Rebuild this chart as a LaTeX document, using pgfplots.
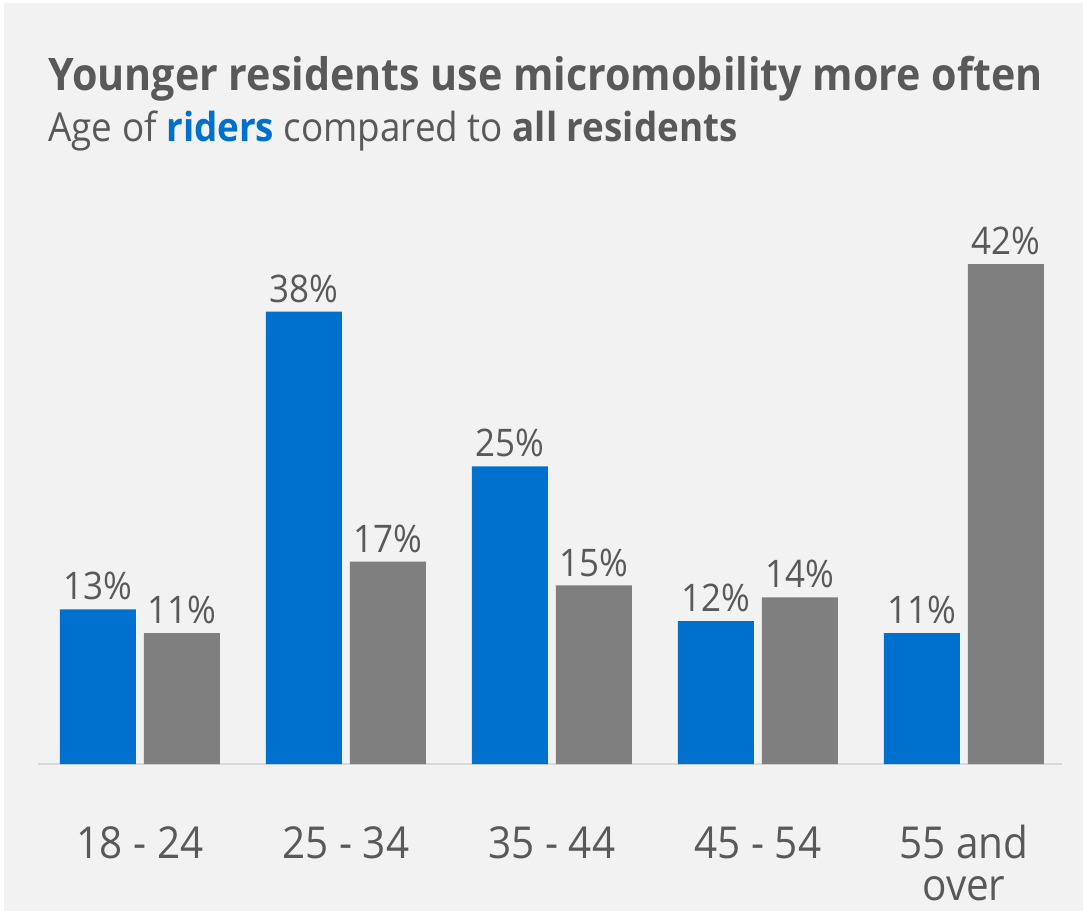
\documentclass[border=0pt]{standalone}
\usepackage{pgfplots}
\pgfplotsset{compat=1.18}
\usepackage{fontspec}
\setmainfont[FakeStretch=0.92]{Open Sans}
\definecolor{bgc}{HTML}{F2F2F2}
\definecolor{txt}{HTML}{595959}
\definecolor{ridc}{HTML}{0070CE}
\definecolor{resc}{HTML}{7F7F7F}
\definecolor{axc}{HTML}{D9D9D9}
\begin{document}
\begin{tikzpicture}[x=0.5pt,y=-0.5pt]
\useasboundingbox (0,0) rectangle (1083,911);
\fill[white] (0,0) rectangle (1083,911);
\fill[bgc] (4,3) rectangle (1083,911);
\coordinate (A) at (38,764);
\node[anchor=base west,inner sep=0pt,text=txt,font=\fontsize{22.4}{26}\selectfont\bfseries] at (48,90) {Younger residents use micromobility more often};
\node[anchor=base west,inner sep=0pt,text=txt,font=\fontsize{20}{24}\selectfont] at (48,141) {Age of \textcolor{ridc}{\bfseries riders} compared to \textbf{all residents}};
\begin{axis}[
  at={(A)}, anchor=south west,
  scale only axis, width=512pt, height=297.6pt,
  xmin=-0.495, xmax=4.476, ymin=0, ymax=50,
  ybar=4pt, bar width=38pt,
  axis y line=none,
  axis x line*=bottom,
  x axis line style={draw=axc,line width=1pt,-},
  xtick={0,1,2,3,4},
  xticklabels={18 - 24,25 - 34,35 - 44,45 - 54,{\begin{tabular}[t]{@{}c@{}}55 and\\[-4pt]over\end{tabular}}},
  xtick style={draw=none},
  xticklabel style={anchor=base,yshift=-43pt,text=txt,font=\fontsize{22}{25}\selectfont},
  clip=false,
  /pgf/number format/assume math mode=true,
  nodes near coords={\pgfmathprintnumber{\pgfplotspointmeta}\%},
  every node near coord/.append style={text=txt,font=\fontsize{19}{22}\selectfont,anchor=south,yshift=1pt},
]
\addplot[fill=ridc,draw=none] coordinates {(0,13) (1,38) (2,25) (3,12) (4,11)};
\addplot[fill=resc,draw=none] coordinates {(0,11) (1,17) (2,15) (3,14) (4,42)};
\end{axis}
\end{tikzpicture}
\end{document}
